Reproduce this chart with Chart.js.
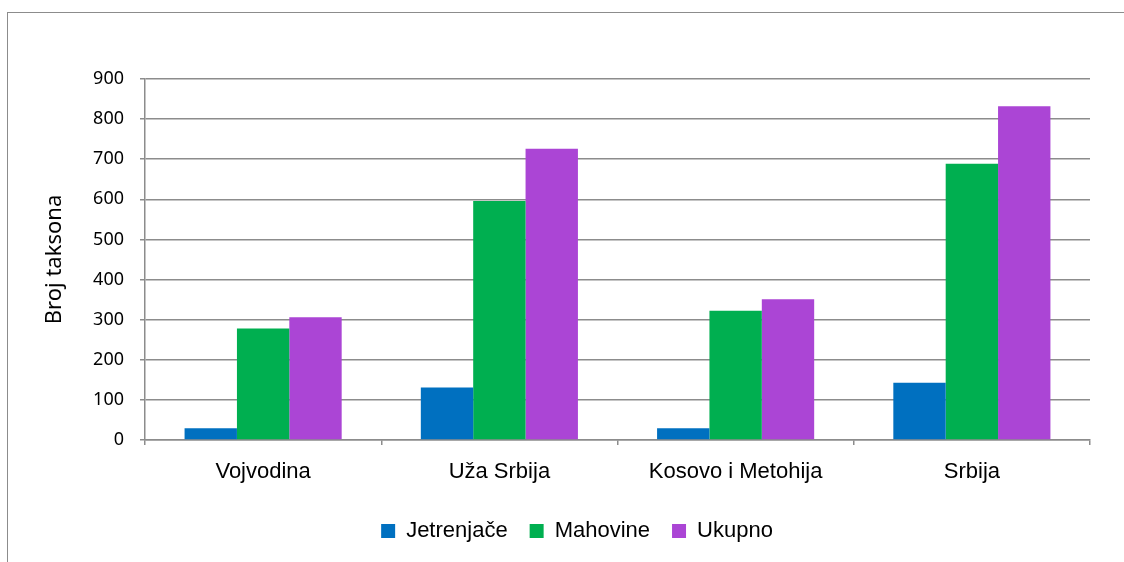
<!DOCTYPE html>
<html lang="sr">
<head>
    <meta charset="UTF-8">
    <title>Broj taksona</title>
    <style>
        body {
            margin: 0;
            background-color: #ffffff;
            overflow: hidden;
        }
        .okvir {
            position: absolute;
            left: 7px;
            top: 12px;
            width: 1300px;
            height: 700px;
            border: 1.5px solid #8c8c8c; /* okvir grafikona */
        }
        #grafik {
            position: absolute;
            left: 0;
            top: 0;
        }
    </style>
    <script src="https://cdn.jsdelivr.net/npm/chart.js"></script>
</head>
<body>
    <div class="okvir"></div>
    <canvas id="grafik" width="1124" height="562"></canvas>
    <script>
        // podaci sa grafikona
        const kategorije = ['Vojvodina', 'Uža Srbija', 'Kosovo i Metohija', 'Srbija'];
        const jetrenjace = [29, 131, 29, 143];
        const mahovine = [278, 596, 322, 689];
        const ukupno = [306, 726, 351, 832];
        const yMin = 0, yMax = 900, yKorak = 100;

        const siva = '#8c8c8c';

        new Chart(document.getElementById('grafik').getContext('2d'), {
            type: 'bar',
            data: {
                labels: kategorije,
                datasets: [
                    { label: 'Jetrenjače', data: jetrenjace, backgroundColor: '#0070c0' },
                    { label: 'Mahovine', data: mahovine, backgroundColor: '#00af50' },
                    { label: 'Ukupno', data: ukupno, backgroundColor: '#ab45d5' }
                ]
            },
            options: {
                responsive: false,
                animation: false,
                categoryPercentage: 0.665,
                barPercentage: 1.0,
                layout: {
                    padding: { left: 64, right: 34, top: 79, bottom: 10 }
                },
                plugins: {
                    tooltip: { enabled: false },
                    legend: {
                        position: 'bottom',
                        labels: {
                            color: '#000',
                            boxWidth: 14,
                            boxHeight: 14,
                            padding: 22,
                            font: { family: 'Liberation Sans', size: 22 }
                        }
                    }
                },
                scales: {
                    x: {
                        grid: {
                            drawOnChartArea: false,
                            drawTicks: true,
                            tickLength: 5,
                            color: siva,
                            lineWidth: 1.5
                        },
                        border: { color: siva, width: 1.5 },
                        ticks: {
                            color: '#000',
                            padding: 14,
                            font: { family: 'Liberation Sans', size: 22 }
                        },
                        afterFit: (s) => { s.height = 58; }
                    },
                    y: {
                        min: yMin,
                        max: yMax,
                        ticks: {
                            stepSize: yKorak,
                            color: '#000',
                            padding: 16,
                            font: { family: 'Noto Sans', size: 18 }
                        },
                        grid: {
                            color: siva,
                            lineWidth: 1.5,
                            tickLength: 5
                        },
                        border: { color: siva, width: 1.5 },
                        title: {
                            display: true,
                            text: 'Broj taksona',
                            color: '#000',
                            padding: { top: -22, bottom: 0 }, // naslov levo od ivice
                            font: { family: 'Noto Sans', size: 22 }
                        },
                        afterFit: (s) => { s.width = 81; }
                    }
                }
            }
        });
    </script>
</body>
</html>
